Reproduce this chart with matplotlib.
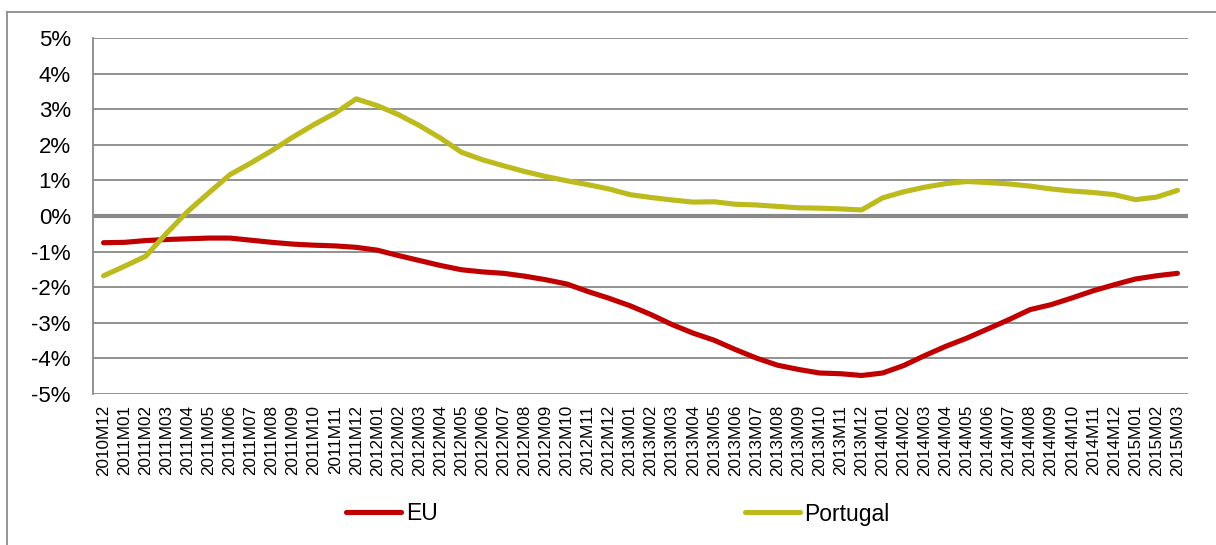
import matplotlib
matplotlib.use("Agg")
import matplotlib.pyplot as plt
from matplotlib.lines import Line2D
import numpy as np

plt.rcParams['font.family'] = ['Liberation Sans', 'DejaVu Sans']

# ── Data ─────────────────────────────────────────────────────────────
months = ["2010M12"]
for yr in range(2011, 2015):
    months += [f"{yr}M{m:02d}" for m in range(1, 13)]
months += ["2015M01", "2015M02", "2015M03"]

eu = [-0.75, -0.74, -0.69, -0.66, -0.64, -0.62, -0.62, -0.68, -0.74, -0.79,
      -0.82, -0.84, -0.88, -0.96, -1.11, -1.25, -1.39, -1.51, -1.57, -1.61,
      -1.69, -1.79, -1.91, -2.12, -2.31, -2.52, -2.77, -3.05, -3.29, -3.49,
      -3.75, -3.99, -4.19, -4.31, -4.41, -4.43, -4.48, -4.41, -4.20, -3.92,
      -3.66, -3.43, -3.17, -2.91, -2.63, -2.49, -2.30, -2.10, -1.93, -1.77,
      -1.68, -1.61]

portugal = [-1.68, -1.41, -1.13, -0.48, 0.13, 0.65, 1.16, 1.49, 1.84, 2.22,
            2.57, 2.89, 3.29, 3.10, 2.85, 2.54, 2.19, 1.79, 1.58, 1.41,
            1.25, 1.11, 0.99, 0.88, 0.76, 0.60, 0.52, 0.45, 0.39, 0.40,
            0.33, 0.31, 0.27, 0.23, 0.22, 0.20, 0.17, 0.51, 0.68, 0.81,
            0.91, 0.97, 0.94, 0.90, 0.84, 0.76, 0.70, 0.66, 0.60, 0.46,
            0.53, 0.72]

y_ticks = list(range(-5, 6))

# ── Figure ───────────────────────────────────────────────────────────
W, H = 1216, 545
fig = plt.figure(figsize=(W / 100, H / 100), dpi=100)
fig.patch.set_facecolor('white')
ax = fig.add_axes([93 / W, 1 - 394 / H, (1188 - 93) / W, (394 - 38) / H])

grid_c = '#898989'
x = np.arange(len(months))

for v in y_ticks:
    if v == 0:
        continue
    ax.axhline(v, color=grid_c, lw=1.3, zorder=1)
ax.axhline(0, color=grid_c, lw=3.0, zorder=1)

l_eu, = ax.plot(x, eu, color='#C00000', lw=3.7, solid_capstyle='round',
                solid_joinstyle='round', zorder=3, label='EU')
l_pt, = ax.plot(x, portugal, color='#BDBA1E', lw=3.7, solid_capstyle='round',
                solid_joinstyle='round', zorder=3, label='Portugal')

ax.set_xlim(-0.5, len(months) - 0.5)
ax.set_ylim(-5, 5)
ax.set_yticks(y_ticks)
ax.set_yticklabels([f"{v}%" for v in y_ticks], fontsize=16)
ax.set_xticks(x)
ax.set_xticklabels(months, rotation=90, fontsize=12.3, va='top', ha='center')
ax.tick_params(axis='both', length=0)
ax.tick_params(axis='y', pad=16)
ax.tick_params(axis='x', pad=8)

for s in ['top', 'right', 'bottom']:
    ax.spines[s].set_visible(False)
ax.spines['left'].set_color(grid_c)
ax.spines['left'].set_linewidth(1.3)

leg = fig.legend(handles=[l_eu, l_pt], loc='center', ncol=2,
                 bbox_to_anchor=(618 / W, 1 - 514 / H), frameon=False,
                 fontsize=16.5, handlelength=2.4, handletextpad=0.2,
                 columnspacing=13.4, borderpad=0)

# outer chart frame (cropped at right and bottom)
fig.add_artist(Line2D([7 / W, 1.0], [1 - 12 / H, 1 - 12 / H],
                      transform=fig.transFigure, color='#8c8c8c', lw=1.3))
fig.add_artist(Line2D([7 / W, 7 / W], [0.0, 1 - 12 / H],
                      transform=fig.transFigure, color='#8c8c8c', lw=1.3))

fig.savefig('out.png', dpi=100, facecolor='white')
